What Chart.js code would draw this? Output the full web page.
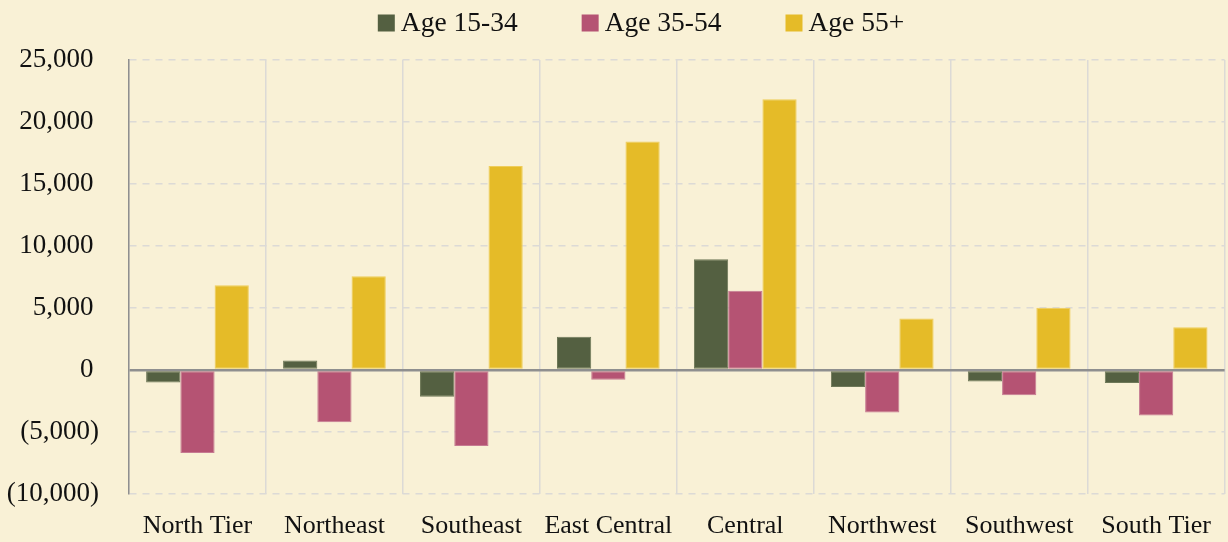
<!DOCTYPE html>
<html>
<head>
<meta charset="utf-8">
<script src="https://cdn.jsdelivr.net/npm/chart.js@4/dist/chart.umd.min.js"></script>
<style>
  html, body { margin: 0; padding: 0; background: #f9f1d6; overflow: hidden; }
  canvas { display: block; }
</style>
</head>
<body>
<canvas id="chart" width="1228" height="542"></canvas>
<script>
// Regions and net change per age group
const regions = ['North Tier', 'Northeast', 'Southeast', 'East Central', 'Central', 'Northwest', 'Southwest', 'South Tier'];
const age15to34 = [-1000, 760, -2150, 2690, 8930, -1370, -930, -1040];
const age35to54 = [-6700, -4220, -6130, -780, 6400, -3420, -2040, -3660];
const age55plus = [6830, 7560, 16450, 18420, 21830, 4150, 5030, 3440];

const yMin = -10000;
const yMax = 25000;
const yStep = 5000;

const font = "'Liberation Serif', 'Times New Roman', serif";
const fontSize = 26;

const fmt = (v) => {
  const s = Math.abs(v).toLocaleString('en-US');
  if (v < 0) return '(' + s + ')';
  return s + '\u2009';
};

const mk = (label, data, color, edge) => ({
  label,
  data,
  backgroundColor: color,
  borderColor: edge,
  borderWidth: 1,
  borderSkipped: false,
  barPercentage: 1,
  categoryPercentage: 0.75,
});

// legend drawn by hand so the item spacing can match (wide gaps, small box-text gap)
const topLegend = {
  id: 'topLegend',
  afterDraw(chart) {
    const ctx = chart.ctx;
    const box = 17, gapText = 6, gapItem = 64;
    ctx.save();
    ctx.font = '27.5px ' + font;
    ctx.textBaseline = 'middle';
    const items = chart.data.datasets.map(ds => ({
      text: ds.label, color: ds.backgroundColor, w: ctx.measureText(ds.label).width,
    }));
    const total = items.reduce((a, it) => a + box + gapText + it.w, 0) + gapItem * (items.length - 1);
    let x = 641 - total / 2;
    const cy = 23;
    items.forEach(it => {
      ctx.fillStyle = it.color;
      ctx.fillRect(x, cy - box / 2, box, box);
      ctx.fillStyle = '#111';
      ctx.fillText(it.text, x + box + gapText, cy + 1);
      x += box + gapText + it.w + gapItem;
    });
    ctx.restore();
  },
};

new Chart(document.getElementById('chart').getContext('2d'), {
  type: 'bar',
  data: {
    labels: regions,
    datasets: [
      mk('Age 15-34', age15to34, '#546041', '#6e7858'),
      mk('Age 35-54', age35to54, '#b55373', '#c67a92'),
      mk('Age 55+', age55plus, '#e5bb28', '#efcd5a'),
    ],
  },
  plugins: [topLegend],
  options: {
    responsive: false,
    animation: false,
    layout: { padding: { top: 60, right: 1, left: 0, bottom: 0 } },
    plugins: {
      legend: { display: false },
      tooltip: { enabled: false },
    },
    scales: {
      x: {
        afterFit: (scale) => { scale.height = 48; },
        grid: { offset: true, color: '#dcdad6', lineWidth: 1.5, drawTicks: false },
        border: { display: false },
        ticks: { color: '#111', font: { family: font, size: fontSize }, padding: 17, maxRotation: 0 },
      },
      y: {
        min: yMin,
        max: yMax,
        afterFit: (scale) => { scale.width = 129; },
        grid: {
          drawTicks: false,
          color: (ctx) => ctx.tick && ctx.tick.value === 0 ? '#8f8f8f' : '#dcdad6',
          lineWidth: (ctx) => ctx.tick && ctx.tick.value === 0 ? 2.5 : 1.5,
        },
        border: {
          color: '#8f8f8f',
          width: 1.5,
          dash: (ctx) => ctx.tick && ctx.tick.value === 0 ? [] : [7, 6],
        },
        ticks: {
          stepSize: yStep,
          color: '#111',
          font: { family: font, size: 27 },
          padding: 30,
          callback: (v) => fmt(v),
        },
      },
    },
  },
});
</script>
</body>
</html>
